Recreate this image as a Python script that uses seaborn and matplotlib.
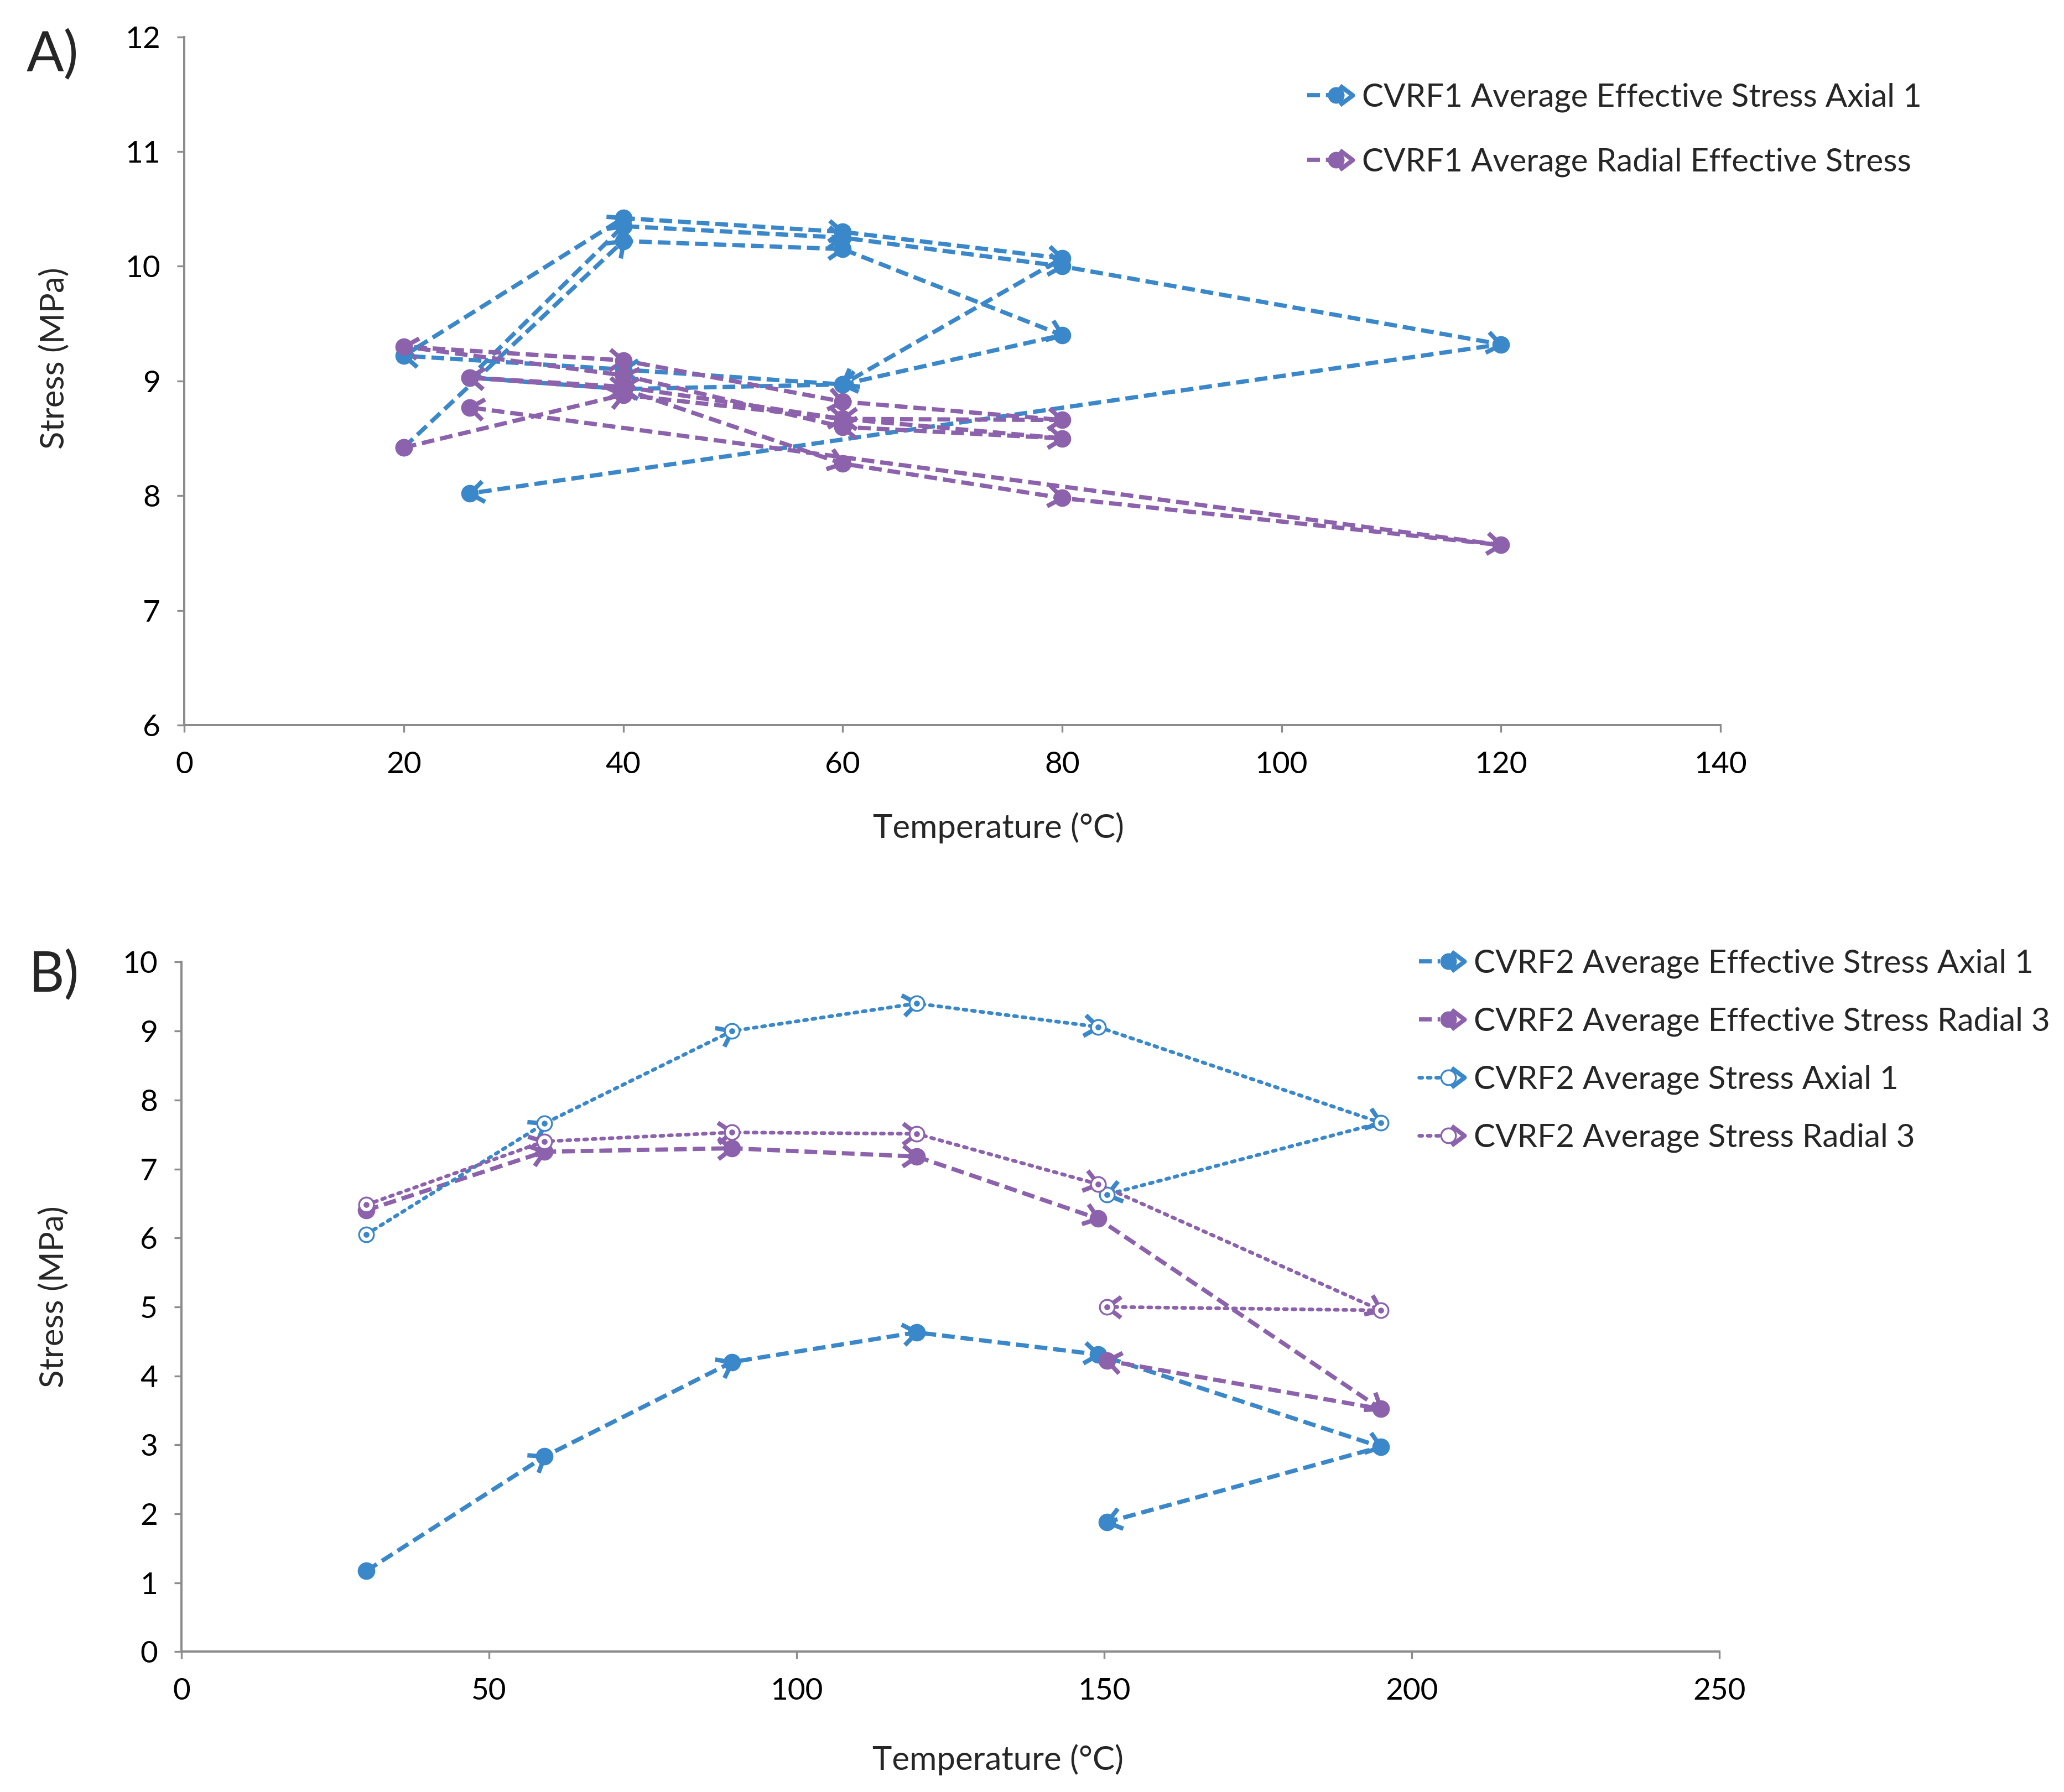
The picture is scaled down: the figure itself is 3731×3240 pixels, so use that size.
import numpy as np
import pandas as pd
import matplotlib
matplotlib.use("Agg")
import matplotlib.pyplot as plt
import seaborn as sns
from matplotlib.lines import Line2D
from matplotlib.path import Path
from matplotlib.markers import MarkerStyle
from matplotlib.transforms import Affine2D
from matplotlib.legend_handler import HandlerBase

# ---------------- data ----------------
# Panel A (CVRF1): thermal cycles, points in measurement order
A_temp = [20, 40, 60, 80, 60, 40, 20, 40, 60, 80, 60, 40, 26, 40, 60, 80, 120, 26]
A_axial = [8.42, 10.22, 10.15, 9.40, 8.97, 9.10, 9.22, 10.42, 10.30, 10.07, 8.97, 8.93,
           9.03, 10.35, 10.25, 10.00, 9.32, 8.02]
A_radial = [8.42, 8.88, 8.67, 8.50, 8.60, 9.05, 9.30, 9.18, 8.82, 8.66, 8.67, 8.95,
            9.03, 8.93, 8.28, 7.98, 7.57, 8.77]
A_labels = ["CVRF1 Average Effective Stress Axial 1",
            "CVRF1 Average Radial Effective Stress"]

# Panel B (CVRF2)
B_temp = [30, 59, 89.5, 119.5, 149, 195, 150.5]
B_eff_axial = [1.17, 2.83, 4.20, 4.63, 4.31, 2.97, 1.88]
B_eff_radial = [6.40, 7.25, 7.30, 7.18, 6.28, 3.52, 4.22]
B_axial = [6.05, 7.66, 9.00, 9.40, 9.06, 7.67, 6.63]
B_radial = [6.48, 7.40, 7.53, 7.51, 6.78, 4.95, 5.00]
B_labels = ["CVRF2 Average Effective Stress Axial 1",
            "CVRF2 Average Effective Stress Radial 3",
            "CVRF2 Average Stress Axial 1",
            "CVRF2 Average Stress Radial 3"]

A_xticks = [0, 20, 40, 60, 80, 100, 120, 140]
A_yticks = [6, 7, 8, 9, 10, 11, 12]
B_xticks = [0, 50, 100, 150, 200, 250]
B_yticks = list(range(0, 11))

# ---------------- style ----------------
BLUE = "#3A87C9"
PURPLE = "#8C62AC"
SPINE = "#8C8C8C"
FS = 16.5
FS_LAB = 18
FS_LEG = 17.5

sns.set_theme(style="white")
plt.rcParams["font.family"] = ["Lato", "DejaVu Sans"]

DASH = (0, (3.0, 1.4))
DOT = (0, (0.8, 1.5))
LW_DASH = 2.3
LW_DOT = 2.0

arrow_path = Path([(-1.0, 0.75), (0.0, 0.0), (-1.0, -0.75)],
                  [Path.MOVETO, Path.LINETO, Path.LINETO])

fig = plt.figure(figsize=(3731 / 240, 3240 / 240), dpi=240)
W, H = 1568.0, 1361.6
axA = fig.add_axes([140 / W, 1 - 551 / H, (1307 - 140) / W, (551 - 28) / H])
axB = fig.add_axes([138 / W, 1 - 1255 / H, (1306 - 138) / W, (1255 - 731) / H])


def style_axes(ax, xlim, ylim, xt, yt, xlabel_x, xlabel_y, ylabel_x, ylabel_y):
    ax.set_xlim(*xlim)
    ax.set_ylim(*ylim)
    ax.set_xticks(xt)
    ax.set_yticks(yt)
    for s in ["top", "right"]:
        ax.spines[s].set_visible(False)
    for s in ["left", "bottom"]:
        ax.spines[s].set_color(SPINE)
        ax.spines[s].set_linewidth(1.2)
    ax.tick_params(axis="both", which="both", direction="out", length=4, width=1.0,
                   color=SPINE, labelsize=FS, labelcolor="black")
    ax.tick_params(axis="x", pad=10, bottom=True)
    ax.tick_params(axis="y", pad=9, left=True)
    ax.grid(False)
    ax.set_xlabel("Temperature (°C)", fontsize=FS_LAB)
    ax.set_ylabel("Stress (MPa)", fontsize=FS_LAB)
    ax.xaxis.set_label_coords(xlabel_x, xlabel_y)
    ax.yaxis.set_label_coords(ylabel_x, ylabel_y)


style_axes(axA, (0, 140), (6, 12), A_xticks, A_yticks, 0.53, -0.126, -0.0746, 0.533)
style_axes(axB, (0, 250), (0, 10), B_xticks, B_yticks, 0.531, -0.134, -0.073, 0.515)


def draw_series(ax, xs, ys, color, ls, lw, open_marker):
    df = pd.DataFrame({"T": xs, "S": ys})
    sns.lineplot(data=df, x="T", y="S", sort=False, estimator=None, ax=ax,
                 color=color, linewidth=lw, linestyle=ls, legend=False)
    ax.lines[-1].set_dash_capstyle("round" if ls == DOT else "butt")
    # arrowheads at the end of each segment, oriented along the segment
    pts = ax.transData.transform(np.column_stack([xs, ys]))
    for i in range(1, len(xs)):
        d = pts[i] - pts[i - 1]
        ang = np.arctan2(d[1], d[0])
        m = MarkerStyle(arrow_path, transform=Affine2D().rotate(ang))
        ax.plot([xs[i]], [ys[i]], linestyle="none", marker=m, markersize=15,
                markeredgecolor=color, markerfacecolor="none",
                markeredgewidth=2.4, zorder=4)
    if open_marker:
        ax.plot(xs, ys, linestyle="none", marker="o", markersize=8,
                markerfacecolor="white", markeredgecolor=color,
                markeredgewidth=1.0, zorder=5)
        ax.plot(xs, ys, linestyle="none", marker="o", markersize=2.2,
                markerfacecolor=color, markeredgecolor=color, zorder=6)
    else:
        ax.plot(xs, ys, linestyle="none", marker="o", markersize=8.5,
                markerfacecolor=color, markeredgecolor=color, zorder=5)


draw_series(axA, A_temp, A_axial, BLUE, DASH, LW_DASH, False)
draw_series(axA, A_temp, A_radial, PURPLE, DASH, LW_DASH, False)

draw_series(axB, B_temp, B_eff_axial, BLUE, DASH, LW_DASH, False)
draw_series(axB, B_temp, B_eff_radial, PURPLE, DASH, LW_DASH, False)
draw_series(axB, B_temp, B_axial, BLUE, DOT, LW_DOT, True)
draw_series(axB, B_temp, B_radial, PURPLE, DOT, LW_DOT, True)


# ---------------- legends ----------------
class ArrowDotHandler(HandlerBase):
    def create_artists(self, legend, orig, xdescent, ydescent, width, height,
                       fontsize, trans):
        color = orig.get_color()
        ls = orig.get_linestyle()
        open_m = orig.get_markerfacecolor() == "white"
        y = height / 2 - ydescent
        x0 = -xdescent
        line = Line2D([x0, x0 + width * 0.45], [y, y], color=color,
                      linestyle=ls, linewidth=orig.get_linewidth())
        if ls == ":":
            line.set_dashes((0.8, 1.5))
            line.set_dash_capstyle("round")
        else:
            line.set_dashes((3.0, 1.4))
        dot = Line2D([x0 + width * 0.62], [y], linestyle="none", marker="o",
                     markersize=8,
                     markerfacecolor="white" if open_m else color,
                     markeredgecolor=color, markeredgewidth=1.0)
        arr = Line2D([x0 + width * 0.97], [y], linestyle="none",
                     marker=MarkerStyle(arrow_path), markersize=14,
                     markerfacecolor="none", markeredgecolor=color,
                     markeredgewidth=2.4)
        for a in (line, dot, arr):
            a.set_transform(trans)
        return [line, dot, arr]


def proxy(color, ls, open_m):
    return Line2D([], [], color=color, linestyle=ls,
                  linewidth=LW_DOT if ls == ":" else LW_DASH,
                  markerfacecolor="white" if open_m else color)


hA = [proxy(BLUE, "--", False), proxy(PURPLE, "--", False)]
fig.legend(hA, A_labels, loc="upper left", bbox_to_anchor=(993 / W, 1 - 63 / H),
           frameon=False, fontsize=FS_LEG, handlelength=1.45, handletextpad=0.25,
           labelspacing=1.08, borderpad=0, borderaxespad=0,
           handler_map={Line2D: ArrowDotHandler()})

hB = [proxy(BLUE, "--", False), proxy(PURPLE, "--", False),
      proxy(BLUE, ":", True), proxy(PURPLE, ":", True)]
fig.legend(hB, B_labels, loc="upper left", bbox_to_anchor=(1078 / W, 1 - 721 / H),
           frameon=False, fontsize=FS_LEG, handlelength=1.45, handletextpad=0.25,
           labelspacing=0.88, borderpad=0, borderaxespad=0,
           handler_map={Line2D: ArrowDotHandler()})

# panel letters
fig.text(20 / W, 1 - 42 / H, "A)", fontsize=30, va="center", ha="left")
fig.text(22 / W, 1 - 741 / H, "B)", fontsize=30, va="center", ha="left")

fig.savefig("out.png", dpi=240, facecolor="white")
